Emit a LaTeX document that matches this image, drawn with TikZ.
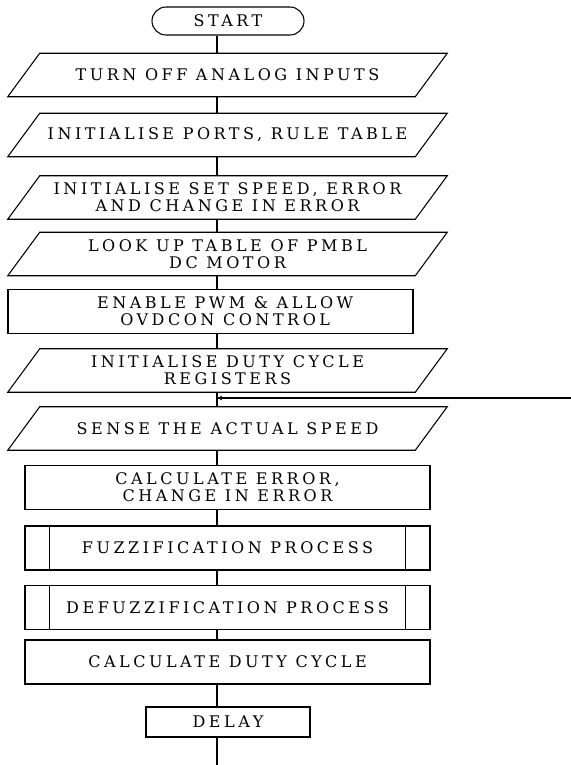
\documentclass[tikz,border=0pt]{standalone}
\usepackage{fontspec}
\usetikzlibrary{shapes.misc,arrows.meta}
\newfontfamily\flowfont{DejaVu Serif}[LetterSpace=22]
\begin{document}
\begin{tikzpicture}[x=0.75pt,y=-0.75pt,
  lw/.style={line width=0.8pt},
  txt/.style={font=\flowfont\fontsize{12}{12.5}\selectfont, align=center, inner sep=0pt},
  term/.style={txt, rounded rectangle, draw, lw, minimum width=114pt, minimum height=21pt},
  iobox/.style={txt, rectangle, minimum width=305.25pt, minimum height=32.25pt},
  procbox/.style={txt, rectangle, draw, lw, minimum width=303.75pt, minimum height=33pt},
  delaybox/.style={txt, rectangle, draw, lw, minimum width=123pt, minimum height=22.5pt},
  conn/.style={lw}
]
\useasboundingbox (0,0) rectangle (571,765);
\coordinate (ax) at (217,0);
\node[term] (start) at (228,21) {START};
\node[iobox] (p1) at (227.5,75) {TURN OFF ANALOG INPUTS};
\node[iobox] (p2) at (227.5,135) {INITIALISE PORTS, RULE TABLE};
\node[iobox] (p3) at (227.5,197.5) {INITIALISE SET SPEED, ERROR\\AND CHANGE IN ERROR};
\node[iobox] (p4) at (227.5,254) {LOOK UP TABLE OF PMBL\\DC MOTOR};
\node[procbox, label={[txt,xshift=11pt]center:ENABLE PWM \& ALLOW\\OVDCON CONTROL}] (r5) at (210.5,311.5) {};
\node[iobox] (p6) at (227.5,370.5) {INITIALISE DUTY CYCLE\\REGISTERS};
\node[iobox] (p7) at (227.5,428.5) {SENSE THE ACTUAL SPEED};
\node[procbox] (r8) at (227.5,487.5) {CALCULATE ERROR,\\CHANGE IN ERROR};
\node[procbox] (f9) at (227.5,548) {FUZZIFICATION PROCESS};
\node[procbox] (f10) at (227.5,607.5) {DEFUZZIFICATION PROCESS};
\node[procbox] (r11) at (227.5,662) {CALCULATE DUTY CYCLE};
\node[delaybox] (delay) at (228,722) {DELAY};
\foreach \n in {p1,p2,p3,p4,p6,p7}
  \draw[lw] ([xshift=12pt]\n.north west) -- ([xshift=12pt]\n.north east) -- ([xshift=-12pt]\n.south east) -- ([xshift=-12pt]\n.south west) -- cycle;
\foreach \n in {f9,f10} {
  \draw[lw] ([xshift=19pt]\n.north west) -- ([xshift=19pt]\n.south west);
  \draw[lw] ([xshift=-19pt]\n.north east) -- ([xshift=-19pt]\n.south east);
}
\foreach \a/\b in {start/p1,p1/p2,p2/p3,p3/p4,p4/r5,r5/p6,p6/p7,p7/r8,r8/f9,f9/f10,f10/r11,r11/delay}
  \draw[conn] (\a.south -| ax) -- (\b.north -| ax);
\coordinate (fb) at (571,398);
\draw[conn,-{Stealth[length=4pt,width=3.5pt]}] (fb) -- (fb -| ax);
\coordinate (endc) at (217,765);
\draw[line width=2pt] (delay.south -| ax) -- (endc);
\end{tikzpicture}
\end{document}
